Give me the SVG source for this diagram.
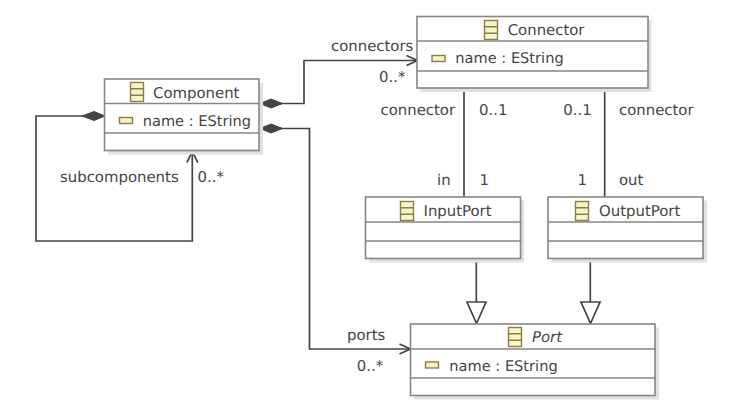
<svg xmlns="http://www.w3.org/2000/svg" width="731" height="416" viewBox="0 0 731 416">
<style>
text{font-family:"DejaVu Sans",sans-serif;font-size:14.9px;fill:#444;text-rendering:geometricPrecision}
.box{fill:#fff;stroke:#868686;stroke-width:1.6}
.sh{fill:#dfe1e8}
.sep{stroke:#868686;stroke-width:1.5;fill:none}
.ic{fill:#f6f5c8;stroke:#8f7d46;stroke-width:1.4}
.ln{fill:none;stroke:#444;stroke-width:1.7}
.tri{fill:#fff;stroke:#444;stroke-width:1.7}
.dm{fill:#444;stroke:#444;stroke-width:1}
.at{font-size:14.6px}
</style>
<defs>
<g id="cls"><rect class="ic" x="0" y="0" width="13" height="19"/><path class="ic" d="M0 6.300H13M0 12.700H13"/></g>
<rect id="attr" class="ic" x="0" y="0" width="13" height="6"/>
</defs>
<rect width="731" height="416" fill="#fff"/>
<g id="connectors">
<path class="ln" d="M280 103.500H304V60.500H417"/>
<path class="dm" d="M260 103.500L271 99L282.500 103.500L271 108Z"/>
<path class="ln" d="M406.500 55.500L417.500 60.500L406.500 65.500"/>
<path class="ln" d="M84 116H36V241H192.300V152"/>
<path class="dm" d="M105 116L94 111.500L82 116L94 120.500Z"/>
<path class="ln" d="M186.800 162.700L192.300 151.500L197.800 162.700"/>
<path class="ln" d="M280 128.500H309.500V349H410"/>
<path class="dm" d="M260 128.500L271 124L282.500 128.500L271 133Z"/>
<path class="ln" d="M399.500 344L410.500 349L399.500 354"/>
<path class="ln" d="M464 88V197M604.700 88V197"/>
<path class="ln" d="M476.300 260V302M590.300 260V302"/>
<path class="tri" d="M467 302H486L476.500 323.500ZM581 302H600L590.500 323.500Z"/>
</g>
<g id="component">
<rect class="sh" x="108" y="83" width="155" height="71.500"/>
<rect class="box" x="104.500" y="79" width="154.500" height="71.500"/>
<path class="sep" d="M104.500 103.500H260M104.500 133H260"/>
<use href="#cls" x="130.500" y="82.500"/><text x="153" y="97.500">Component</text>
<use href="#attr" x="119.500" y="117.500"/><text class="at" x="142.700" y="125.500">name : EString</text>
</g>
<g id="connector">
<rect class="sh" x="420.500" y="20" width="231" height="72"/>
<rect class="box" x="417" y="16.500" width="231" height="71.500"/>
<path class="sep" d="M417 41H649M417 71H649"/>
<use href="#cls" x="484.500" y="20.500"/><text x="507.700" y="35">Connector</text>
<use href="#attr" x="432" y="55.500"/><text class="at" x="455.300" y="63">name : EString</text>
</g>
<g id="inputport">
<rect class="sh" x="369" y="200.500" width="155" height="62"/>
<rect class="box" x="365.500" y="197" width="155" height="61.500"/>
<path class="sep" d="M365.500 222H521.500M365.500 241H521.500"/>
<use href="#cls" x="400.500" y="201.500"/><text x="423.500" y="216">InputPort</text>
</g>
<g id="outputport">
<rect class="sh" x="552" y="200.500" width="155" height="62"/>
<rect class="box" x="548" y="197" width="155" height="61.500"/>
<path class="sep" d="M548 222H704M548 241H704"/>
<use href="#cls" x="575.500" y="201.500"/><text x="599" y="216">OutputPort</text>
</g>
<g id="port">
<rect class="sh" x="414" y="327.500" width="245" height="72"/>
<rect class="box" x="410.500" y="324" width="244.500" height="71.500"/>
<path class="sep" d="M410.500 349H656M410.500 378H656"/>
<use href="#cls" x="508.500" y="327.500"/><text x="532" y="342" style="font-style:italic">Port</text>
<use href="#attr" x="425.500" y="362"/><text class="at" x="449.300" y="370.500">name : EString</text>
</g>
<g id="labels">
<text x="331" y="50.500">connectors</text>
<text x="379" y="81.500">0..*</text>
<text x="60" y="181.500">subcomponents</text>
<text x="197.500" y="181.500">0..*</text>
<text x="380.500" y="115">connector</text>
<text x="479" y="115">0..1</text>
<text x="563.300" y="115">0..1</text>
<text x="619" y="115">connector</text>
<text x="437" y="185">in</text>
<text x="479.500" y="185">1</text>
<text x="577.500" y="185">1</text>
<text x="619" y="185">out</text>
<text x="347" y="340">ports</text>
<text x="356.700" y="370.500">0..*</text>
</g>
</svg>
